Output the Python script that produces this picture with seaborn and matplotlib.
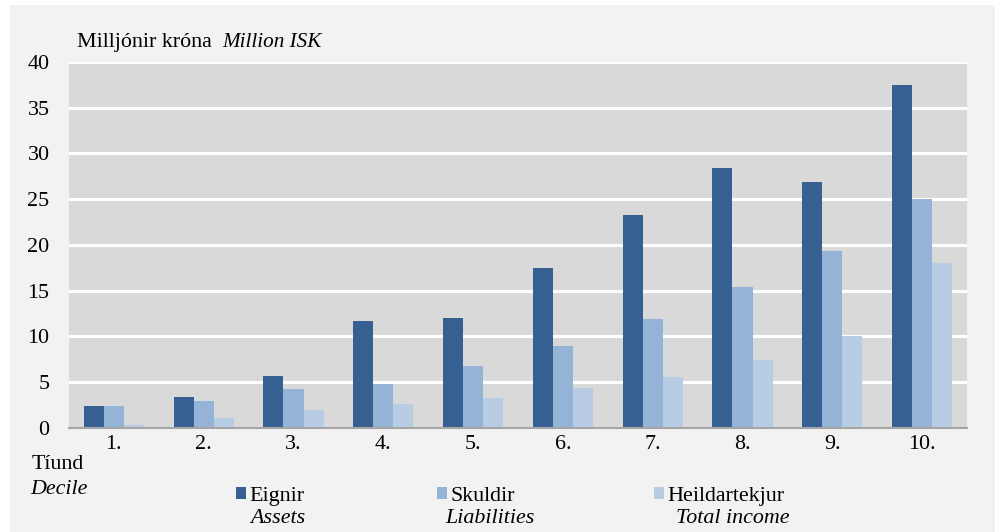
import pandas as pd
import seaborn as sns
import matplotlib.pyplot as plt
from matplotlib.patches import Patch, Rectangle

deciles = ['1.', '2.', '3.', '4.', '5.', '6.', '7.', '8.', '9.', '10.']
eignir = [2.4, 3.4, 5.7, 11.7, 12.0, 17.5, 23.3, 28.4, 26.9, 37.5]
skuldir = [2.4, 2.9, 4.3, 4.8, 6.8, 9.0, 11.9, 15.4, 19.3, 25.0]
tekjur = [0.3, 1.1, 2.0, 2.6, 3.3, 4.4, 5.6, 7.4, 10.1, 18.0]
series = ['Eignir', 'Skuldir', 'Heildartekjur']
series_en = ['Assets', 'Liabilities', 'Total income']
colors = ['#366092', '#95b3d7', '#b8cce4']

df = pd.DataFrame({
    'decile': deciles * 3,
    'value': eignir + skuldir + tekjur,
    'series': [s for s in series for _ in deciles],
})

sns.set_theme(style='white')
plt.rcParams['font.family'] = ['Liberation Serif', 'DejaVu Serif']
plt.rcParams['text.color'] = 'black'
plt.rcParams['xtick.color'] = 'black'
plt.rcParams['ytick.color'] = 'black'
fs = 15.8

fig = plt.figure(figsize=(10, 5.32), dpi=100)
fig.patch.set_facecolor('white')
# grey panel behind the chart
fig.patches.append(Rectangle((0.010, 0.0), 0.985, 1 - 5 / 532, transform=fig.transFigure,
                             facecolor='#f2f2f2', edgecolor='none', zorder=-5))

ax = fig.add_axes([0.069, 0.1955, 0.898, 0.688])
ax.set_facecolor('#d9d9d9')
sns.barplot(data=df, x='decile', y='value', hue='series', palette=colors, saturation=1,
            width=0.67, gap=0, linewidth=0, legend=False, ax=ax, zorder=3)

ax.set_ylim(0, 40)
ax.set_yticks(range(0, 41, 5))
ax.yaxis.grid(True, color='white', linewidth=2.2, zorder=1)
ax.set_axisbelow(True)
for side in ['top', 'right', 'left']:
    ax.spines[side].set_visible(False)
ax.spines['bottom'].set_color('#a6a6a6')
ax.spines['bottom'].set_linewidth(1.5)
ax.spines['bottom'].set_zorder(4)
ax.tick_params(axis='y', labelsize=fs, pad=14, length=0)
ax.tick_params(axis='x', labelsize=fs, pad=5, length=0)
ax.set_xlabel('')
ax.set_ylabel('')

fig.text(0.077, 0.912, 'Milljónir króna', fontsize=fs, ha='left', va='baseline')
fig.text(0.222, 0.912, 'Million ISK', fontsize=fs - 0.6, style='italic', ha='left', va='baseline')

fig.text(0.032, 0.118, 'Tíund', fontsize=fs, ha='left', va='baseline')
fig.text(0.030, 0.071, 'Decile', fontsize=fs, style='italic', ha='left', va='baseline')

# legend: one entry per block, English name in italics below
for x, c, s, s_en, x_en in zip([0.236, 0.437, 0.654], colors, series, series_en,
                               [0.250, 0.445, 0.676]):
    fig.legend([Patch(facecolor=c, edgecolor='none')], [s], loc='center left',
               bbox_to_anchor=(x, 0.067), frameon=False, fontsize=fs,
               handlelength=0.46, handleheight=0.46, handletextpad=0.14,
               borderpad=0, borderaxespad=0)
    fig.text(x_en, 0.017, s_en, fontsize=fs, style='italic', ha='left', va='baseline')

fig.savefig('out.png', dpi=100, facecolor=fig.get_facecolor())
